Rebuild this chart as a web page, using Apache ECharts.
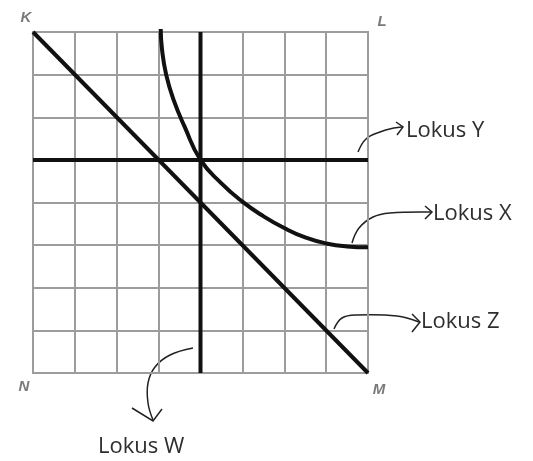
<!DOCTYPE html>
<html>
<head>
<meta charset="utf-8">
<script src="https://cdn.jsdelivr.net/npm/echarts@6/dist/echarts.min.js"></script>
<style>
  html, body { margin: 0; padding: 0; background: #fff; }
  #chart { width: 533px; height: 461px; }
</style>
</head>
<body>
<div id="chart"></div>
<script>
// grid is 8 x 8 squares, N at (0,0), K at (0,8), L at (8,8), M at (8,0)
var gridTicks = [0, 1, 2, 3, 4, 5, 6, 7, 8];
var lokusZ = [[0, 8], [8, 0]];       // diagonal K -> M
var lokusW = [[4, 0], [4, 8]];       // vertical line
var lokusY = [[0, 5], [8, 5]];       // horizontal line
var lokusX = [                       // curve
  [3.05, 8.07], [3.08, 7.6], [3.18, 7.0], [3.36, 6.4], [3.62, 5.78], [4, 5.0],
  [4.5, 4.45], [5, 4.02], [5.5, 3.68], [6, 3.4], [6.5, 3.18], [7, 3.04],
  [7.5, 2.97], [8, 2.95]
];
var cornerLabels = ['K', 'L', 'M', 'N'];
var lokusLabels = ['Lokus Y', 'Lokus X', 'Lokus Z', 'Lokus W'];

var myChart = echarts.init(document.getElementById('chart'));

var thick = { color: '#111', width: 4 };
function locus(name, data, smooth) {
  return {
    name: name,
    type: 'line',
    data: data,
    smooth: smooth ? 0.5 : false,
    showSymbol: false,
    symbol: 'none',
    clip: false,
    lineStyle: thick,
    silent: true
  };
}

// hand drawn arrows next to the labels (pixel annotations)
var arrowStyle = { stroke: '#222', lineWidth: 1.5, fill: null };
function arrow(curve, head) {
  return [
    { type: 'polyline', shape: { points: curve, smooth: 0.4 }, style: arrowStyle },
    { type: 'polyline', shape: { points: head }, style: arrowStyle }
  ];
}

var cornerStyle = { fill: '#7a7a7a', font: 'italic bold 15px "Liberation Sans", sans-serif',
  align: 'center', verticalAlign: 'middle' };
var lokusStyle = { fill: '#2e2e2e', font: '22px "Open Sans", sans-serif',
  align: 'left', verticalAlign: 'middle' };

var graphics = [].concat(
  arrow([[358, 152], [366, 139], [380, 132], [394, 128], [402, 127]],
        [[396, 122], [403, 127], [397, 135]]),
  arrow([[352, 243], [359, 228], [373, 217], [390, 213], [431, 212]],
        [[425, 206], [432, 212], [425, 219]]),
  arrow([[334, 329], [342, 318], [357, 315], [397, 316], [419, 322]],
        [[412, 314], [420, 322], [412, 332]]),
  arrow([[193, 348], [170, 355], [155, 367], [148, 383], [148, 403], [153, 420]],
        [[132, 408], [153, 421], [162, 409]]),
  [
    { type: 'text', x: 26, y: 18, style: Object.assign({ text: cornerLabels[0] }, cornerStyle) },
    { type: 'text', x: 382, y: 22, style: Object.assign({ text: cornerLabels[1] }, cornerStyle) },
    { type: 'text', x: 379, y: 390, style: Object.assign({ text: cornerLabels[2] }, cornerStyle) },
    { type: 'text', x: 24, y: 387, style: Object.assign({ text: cornerLabels[3] }, cornerStyle) },
    { type: 'text', x: 406, y: 131, style: Object.assign({ text: lokusLabels[0] }, lokusStyle) },
    { type: 'text', x: 433, y: 214, style: Object.assign({ text: lokusLabels[1] }, lokusStyle) },
    { type: 'text', x: 421, y: 322, style: Object.assign({ text: lokusLabels[2] }, lokusStyle) },
    { type: 'text', x: 98, y: 447, style: Object.assign({ text: lokusLabels[3] }, lokusStyle) }
  ]
);

var axisCommon = {
  type: 'value',
  min: gridTicks[0],
  max: gridTicks[gridTicks.length - 1],
  interval: 1,
  axisLabel: { show: false },
  axisTick: { show: false },
  axisLine: { show: true, lineStyle: { color: '#9c9c9c', width: 2 } },
  splitLine: { show: true, lineStyle: { color: '#9c9c9c', width: 2 } }
};

var option = {
  backgroundColor: '#ffffff',
  animation: false,
  grid: {
    left: 33, right: 165, top: 32, bottom: 88,
    show: true, borderColor: '#9c9c9c', borderWidth: 2
  },
  xAxis: axisCommon,
  yAxis: axisCommon,
  series: [
    locus('Lokus Y', lokusY),
    locus('Lokus W', lokusW),
    locus('Lokus Z', lokusZ),
    locus('Lokus X', lokusX, true)
  ],
  graphic: graphics
};
myChart.setOption(option);
</script>
</body>
</html>
